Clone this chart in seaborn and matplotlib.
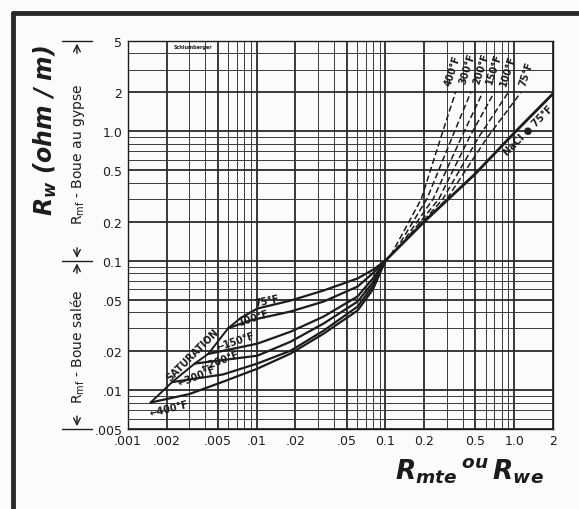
import numpy as np
import pandas as pd
import matplotlib
matplotlib.use("Agg")
import matplotlib.pyplot as plt
import matplotlib.transforms as mtransforms
from matplotlib.lines import Line2D
from matplotlib.ticker import FixedLocator, FixedFormatter, NullFormatter
import seaborn as sns

# ---- data (log-log, Rw vs Rmte / Rwe) ----
x_ticks = [0.001, 0.002, 0.005, 0.01, 0.02, 0.05, 0.1, 0.2, 0.5, 1.0, 2.0]
x_tick_labels = [".001", ".002", ".005", ".01", ".02", ".05", "0.1", "0.2", "0.5", "1.0", "2"]
y_ticks = [0.005, 0.01, 0.02, 0.05, 0.1, 0.2, 0.5, 1.0, 2.0, 5.0]
y_tick_labels = [".005", ".01", ".02", ".05", "0.1", "0.2", "0.5", "1.0", "2", "5"]

# saturation locus (left end of the salt-mud curves)
sat_x = [0.0015, 0.0022, 0.0033, 0.0042, 0.0060, 0.0075]
sat_y = [0.0080, 0.0115, 0.0160, 0.0190, 0.0300, 0.0360]

# salt mud curves (solid), one per temperature
salt_75_x = [0.0075, 0.0101, 0.0183, 0.033, 0.0607, 0.08, 0.1]
salt_75_y = [0.0360, 0.0426, 0.0491, 0.0587, 0.0728, 0.085, 0.1]
salt_100_x = [0.0060, 0.0089, 0.0183, 0.033, 0.0607, 0.08, 0.1]
salt_100_y = [0.0300, 0.0345, 0.0404, 0.0482, 0.0630, 0.080, 0.1]
salt_150_x = [0.0042, 0.0101, 0.0183, 0.033, 0.0607, 0.08, 0.1]
salt_150_y = [0.0190, 0.0228, 0.0282, 0.0369, 0.0528, 0.073, 0.1]
salt_200_x = [0.0033, 0.0101, 0.0183, 0.033, 0.0607, 0.08, 0.1]
salt_200_y = [0.0160, 0.0184, 0.0236, 0.0326, 0.0482, 0.068, 0.1]
salt_300_x = [0.0022, 0.0055, 0.0101, 0.0183, 0.033, 0.0607, 0.08, 0.1]
salt_300_y = [0.0115, 0.0132, 0.0160, 0.0201, 0.0287, 0.0441, 0.064, 0.1]
salt_400_x = [0.0015, 0.003, 0.0055, 0.0101, 0.0183, 0.033, 0.0607, 0.08, 0.1]
salt_400_y = [0.0080, 0.0093, 0.0116, 0.0146, 0.0191, 0.0272, 0.0411, 0.060, 0.1]

# NaCl @ 75 F line
nacl_x = [0.1, 0.2, 0.5, 1.0, 2.0]
nacl_y = [0.1, 0.2, 0.47, 0.97, 1.95]

# gypsum mud curves (dashed)
gyp_400_x = [0.11, 0.19, 0.27, 0.35]
gyp_400_y = [0.11, 0.30, 0.90, 2.0]
gyp_300_x = [0.12, 0.21, 0.33, 0.46]
gyp_300_y = [0.12, 0.30, 0.90, 2.0]
gyp_200_x = [0.13, 0.235, 0.39, 0.57]
gyp_200_y = [0.13, 0.30, 0.90, 2.0]
gyp_150_x = [0.14, 0.26, 0.45, 0.70]
gyp_150_y = [0.14, 0.30, 0.90, 2.0]
gyp_100_x = [0.16, 0.28, 0.53, 0.90]
gyp_100_y = [0.16, 0.30, 0.90, 2.0]
gyp_75_x = [0.19, 0.30, 0.62, 1.13]
gyp_75_y = [0.19, 0.30, 0.90, 2.0]

sns.set_theme(style="white")
plt.rcParams["font.family"] = ["DejaVu Sans"]
plt.rcParams["mathtext.fontset"] = "custom"
plt.rcParams["mathtext.it"] = "DejaVu Sans:italic:bold"
plt.rcParams["mathtext.rm"] = "DejaVu Sans"
plt.rcParams["mathtext.bf"] = "DejaVu Sans:bold"

ink = "#1c1c1c"
fig = plt.figure(figsize=(5.79, 5.10), dpi=100)
fig.patch.set_facecolor("#fbfbf9")
ax = fig.add_axes([0.221, 0.157, 0.734, 0.761])
ax.set_facecolor("#fbfbf9")
ax.set_xscale("log")
ax.set_yscale("log")
ax.set_xlim(0.001, 2)
ax.set_ylim(0.005, 5)

ax.xaxis.set_major_locator(FixedLocator(x_ticks))
ax.xaxis.set_major_formatter(FixedFormatter(x_tick_labels))
ax.xaxis.set_minor_formatter(NullFormatter())
ax.yaxis.set_major_locator(FixedLocator(y_ticks))
ax.yaxis.set_major_formatter(FixedFormatter(y_tick_labels))
ax.yaxis.set_minor_formatter(NullFormatter())
ax.tick_params(which="both", length=0, labelsize=9, colors=ink, pad=4)

ax.grid(True, which="major", color="#2a2a2a", lw=1.3)
ax.grid(True, which="minor", color="#3a3a3a", lw=0.7)
for s in ax.spines.values():
    s.set_color(ink)
    s.set_linewidth(1.0)

# curves
def draw(xs, ys, **kw):
    df = pd.DataFrame({"x": xs, "y": ys})
    sns.lineplot(data=df, x="x", y="y", ax=ax, sort=False, estimator=None,
                 color=ink, **kw)

draw(sat_x, sat_y, lw=1.4)
for xs, ys in [(salt_75_x, salt_75_y), (salt_100_x, salt_100_y),
               (salt_150_x, salt_150_y), (salt_200_x, salt_200_y),
               (salt_300_x, salt_300_y), (salt_400_x, salt_400_y)]:
    draw(xs, ys, lw=1.6)
draw(nacl_x, nacl_y, lw=2.0)
for xs, ys in [(gyp_400_x, gyp_400_y), (gyp_300_x, gyp_300_y),
               (gyp_200_x, gyp_200_y), (gyp_150_x, gyp_150_y),
               (gyp_100_x, gyp_100_y), (gyp_75_x, gyp_75_y)]:
    draw(xs, ys, lw=1.1, linestyle=(0, (4, 2)))
ax.set_xlabel("")
ax.set_ylabel("")

# curve labels, salt side
tk = dict(color=ink, fontsize=7, fontweight="bold", ha="center", va="center")
ax.text(0.0121, 0.0490, "75°F", rotation=12, **tk)
ax.text(0.0096, 0.0362, "100°F", rotation=18, **tk)
ax.text(0.0069, 0.0238, "←150°F", rotation=18, **tk)
ax.text(0.0052, 0.0168, "←200°F", rotation=20, **tk)
ax.text(0.0034, 0.0128, "←300°F", rotation=22, **tk)
ax.text(0.0021, 0.0072, "←400°F", rotation=14, **tk)
ax.text(0.0032, 0.0190, "SATURATION", rotation=45, **tk)
ax.text(1.30, 1.02, "NaCl ● 75°F", rotation=45, **tk)

# curve labels, gypsum side
for xv, yv, lab in [(0.33, 3.0, "400°F"), (0.43, 3.1, "300°F"),
                    (0.56, 3.1, "200°F"), (0.70, 3.1, "150°F"),
                    (0.89, 3.0, "100°F"), (1.25, 2.8, "75°F")]:
    ax.text(xv, yv, lab, rotation=72, **tk)

ax.text(0.0032, 4.55, "Schlumberger", fontsize=3.5, color=ink,
        ha="center", va="center", fontweight="bold")

# left side annotations
blend = mtransforms.blended_transform_factory(ax.transAxes, ax.transData)
for yv in [5.0, 0.1, 0.005]:
    ax.plot([-0.155, -0.085], [yv, yv], transform=blend, clip_on=False,
            color=ink, lw=1.0)
arrow = dict(arrowstyle="->", color=ink, lw=1.0)
ax.annotate("", xy=(-0.12, 5.0), xytext=(-0.12, 3.8), xycoords=blend,
            textcoords=blend, arrowprops=arrow)
ax.annotate("", xy=(-0.12, 0.1), xytext=(-0.12, 0.132), xycoords=blend,
            textcoords=blend, arrowprops=arrow)
ax.annotate("", xy=(-0.12, 0.1), xytext=(-0.12, 0.076), xycoords=blend,
            textcoords=blend, arrowprops=arrow)
ax.annotate("", xy=(-0.12, 0.005), xytext=(-0.12, 0.0066), xycoords=blend,
            textcoords=blend, arrowprops=arrow)

ax.text(-0.117, 0.68, r"R$_{\rm mf}$ - Boue au gypse", transform=blend,
        rotation=90, ha="center", va="center", fontsize=10, color=ink)
ax.text(-0.117, 0.022, r"R$_{\rm mf}$ - Boue salée", transform=blend,
        rotation=90, ha="center", va="center", fontsize=10, color=ink)

fig.text(0.078, 0.745, r"$R_w$ (ohm / m)", rotation=90, ha="center",
         va="center", fontsize=17, fontweight="bold", style="italic",
         color=ink)
fig.text(0.81, 0.075, r"$R_{mte}\,{}^{ou}\,R_{we}$", ha="center",
         va="center", fontsize=19, color=ink)

# scan frame (left and top edges)
fig.add_artist(Line2D([0.0225, 0.0225], [0.0, 0.9725],
                      transform=fig.transFigure, color="#2a2a2a", lw=3.5))
fig.add_artist(Line2D([0.0225, 1.0], [0.9725, 0.9725],
                      transform=fig.transFigure, color="#2a2a2a", lw=3.5))

fig.savefig("out.png", dpi=100, facecolor=fig.get_facecolor())
